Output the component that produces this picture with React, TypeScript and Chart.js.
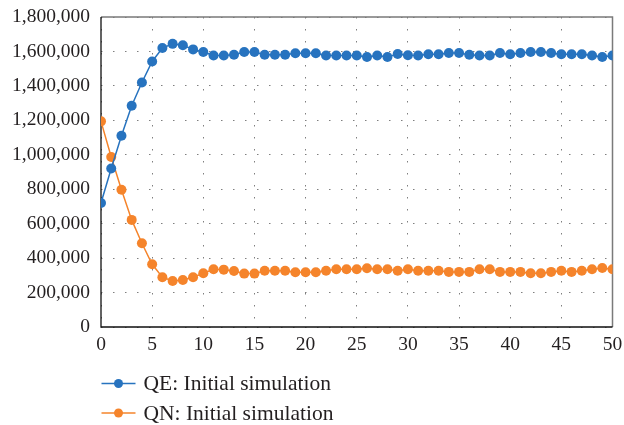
import React, { useEffect, useRef } from 'react';
import { Chart, registerables } from 'chart.js';

Chart.register(...registerables);

const steps = [0, 1, 2, 3, 4, 5, 6, 7, 8, 9, 10, 11, 12, 13, 14, 15, 16, 17, 18, 19, 20, 21, 22, 23, 24, 25, 26, 27, 28, 29, 30, 31, 32, 33, 34, 35, 36, 37, 38, 39, 40, 41, 42, 43, 44, 45, 46, 47, 48, 49, 50];

const qeValues = [720000, 920000, 1110000, 1285000, 1420000, 1542000, 1620000, 1644000, 1636000, 1612000, 1597000, 1576000, 1576000, 1581000, 1597000, 1597000, 1581000, 1581000, 1581000, 1589000, 1589000, 1589000, 1576000, 1576000, 1576000, 1576000, 1568000, 1576000, 1568000, 1585000, 1578000, 1576000, 1584000, 1584000, 1591000, 1591000, 1581000, 1576000, 1576000, 1591000, 1584000, 1591000, 1597000, 1597000, 1591000, 1584000, 1584000, 1584000, 1576000, 1568000, 1576000];

const qnValues = [1194000, 987000, 797000, 622000, 486000, 364000, 289000, 267000, 273000, 289000, 312000, 335000, 333000, 325000, 310000, 310000, 327000, 327000, 327000, 318000, 318000, 318000, 327000, 335000, 335000, 335000, 341000, 335000, 335000, 327000, 335000, 327000, 327000, 327000, 320000, 320000, 320000, 335000, 335000, 320000, 320000, 320000, 312000, 312000, 320000, 327000, 320000, 327000, 335000, 343000, 335000];

const seriesLabels = ['QE: Initial simulation', 'QN: Initial simulation'];
const seriesColors = ['#2773BF', '#F5842B'];

const FONT = "'Liberation Serif', 'DejaVu Serif', serif";
const TEXT = '#231F20';

const framePlugin = {
  id: 'frame',
  beforeDatasetsDraw(chart: any) {
    const { ctx, chartArea: a } = chart;
    ctx.save();
    ctx.setLineDash([]);
    ctx.strokeStyle = '#7a7a7a';
    ctx.lineWidth = 1.5;
    ctx.beginPath();
    ctx.moveTo(a.left, a.top);
    ctx.lineTo(a.right, a.top);
    ctx.lineTo(a.right, a.bottom);
    ctx.stroke();
    ctx.strokeStyle = '#111';
    ctx.lineWidth = 1.3;
    ctx.beginPath();
    ctx.moveTo(a.left, a.top);
    ctx.lineTo(a.left, a.bottom);
    ctx.lineTo(a.right, a.bottom);
    ctx.stroke();
    ctx.restore();
  },
};

const legendPlugin = {
  id: 'customLegend',
  afterDraw(chart: any) {
    const { ctx, chartArea: a } = chart;
    ctx.save();
    chart.data.datasets.forEach((ds: any, i: number) => {
      const y = a.bottom + 56.5 + i * 29.5;
      const x0 = a.left + 0.5;
      ctx.strokeStyle = ds.borderColor;
      ctx.lineWidth = 1.5;
      ctx.beginPath();
      ctx.moveTo(x0, y);
      ctx.lineTo(x0 + 34, y);
      ctx.stroke();
      ctx.fillStyle = ds.borderColor;
      ctx.beginPath();
      ctx.arc(x0 + 17, y, 4.5, 0, Math.PI * 2);
      ctx.fill();
      ctx.fillStyle = TEXT;
      ctx.font = `21.5px ${FONT}`;
      ctx.textBaseline = 'middle';
      ctx.textAlign = 'left';
      ctx.fillText(ds.label, x0 + 42, y + 1);
    });
    ctx.restore();
  },
};

export default function App() {
  const ref = useRef<HTMLCanvasElement | null>(null);

  useEffect(() => {
    if (!ref.current) return;
    const seriesData = [qeValues, qnValues];
    const chart = new Chart(ref.current, {
      type: 'line',
      data: {
        datasets: seriesData.map((vals, i) => ({
          label: seriesLabels[i],
          data: steps.map((s, j) => ({ x: s, y: vals[j] })),
          borderColor: seriesColors[i],
          backgroundColor: seriesColors[i],
          pointBackgroundColor: seriesColors[i],
          pointBorderColor: seriesColors[i],
          pointRadius: 5,
          pointBorderWidth: 0,
          borderWidth: 1.5,
          tension: 0,
        })),
      },
      options: {
        animation: false,
        responsive: false,
        devicePixelRatio: 1,
        layout: { padding: { left: 0, top: 17, right: 11.5, bottom: 68 } },
        plugins: {
          legend: { display: false },
          tooltip: { enabled: false },
        },
        scales: {
          x: {
            type: 'linear',
            min: 0,
            max: 50,
            ticks: {
              stepSize: 5,
              color: TEXT,
              padding: 6,
              font: { family: FONT, size: 19.5 },
            },
            grid: { drawTicks: false, color: '#7f7f7f', lineWidth: 1 },
            border: { display: false, dash: [1.5, 10.5] },
            afterFit: (s: any) => {
              s.height = 30;
              s.paddingLeft = 0;
              s.paddingRight = 0;
            },
          },
          y: {
            min: 0,
            max: 1800000,
            ticks: {
              stepSize: 200000,
              color: TEXT,
              padding: 11,
              font: { family: FONT, size: 19.5 },
              callback: (v: any) => Number(v).toLocaleString('en-US'),
            },
            grid: { drawTicks: false, color: '#7f7f7f', lineWidth: 1 },
            border: { display: false, dash: [1.5, 10.5] },
            afterFit: (s: any) => {
              s.width = 101;
              s.paddingTop = 0;
              s.paddingBottom = 0;
            },
          },
        },
      },
      plugins: [framePlugin, legendPlugin],
    } as any);
    return () => chart.destroy();
  }, []);

  return (
    <div style={{ position: 'absolute', left: 0, top: 0, width: 624, height: 425 }}>
      <canvas ref={ref} width={624} height={425} style={{ display: 'block' }} />
    </div>
  );
}
